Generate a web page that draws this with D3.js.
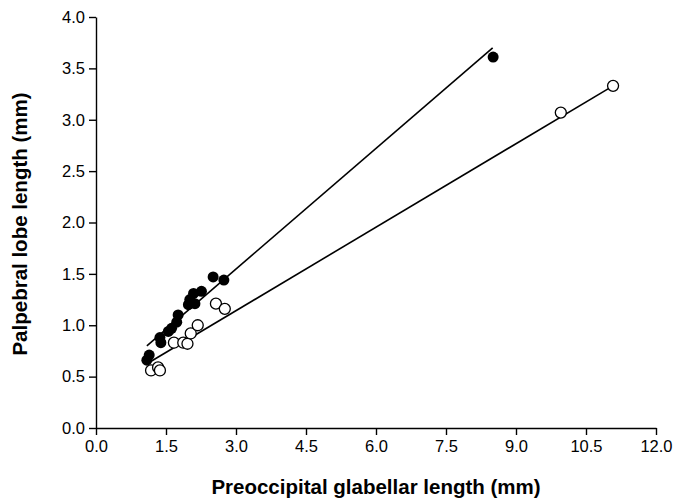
<!DOCTYPE html>
<html>
<head>
<meta charset="utf-8">
<script src="https://cdn.jsdelivr.net/npm/d3@7"></script>
<style>
  body { margin: 0; background: #fff; }
  svg { display: block; }
  .axis text { font-family: "Liberation Sans", Arial, sans-serif; font-size: 16.5px; fill: #000; }
  .axis path, .axis line { stroke: #000; stroke-width: 1.4px; }
  .title { font-family: "Liberation Sans", Arial, sans-serif; font-size: 20.5px; font-weight: bold; }
</style>
</head>
<body>
<div id="chart"></div>
<script>
// filled circles
var filledX = [1.09, 1.14, 1.37, 1.39, 1.55, 1.62, 1.73, 1.76, 1.98, 2.01, 2.09, 2.12, 2.26, 2.51, 2.74, 8.51];
var filledY = [0.66, 0.71, 0.88, 0.83, 0.94, 0.97, 1.03, 1.10, 1.20, 1.25, 1.31, 1.21, 1.33, 1.47, 1.44, 3.61];
// open circles
var openX = [1.18, 1.33, 1.37, 1.67, 1.87, 1.96, 2.03, 2.18, 2.57, 2.76, 9.96, 11.08];
var openY = [0.56, 0.59, 0.56, 0.83, 0.83, 0.82, 0.92, 1.00, 1.21, 1.16, 3.07, 3.33];
// fitted lines (end points)
var fitFilled = [[1.09, 0.80], [8.50, 3.70]];
var fitOpen = [[1.11, 0.63], [11.08, 3.33]];

var xTicks = [0, 1.5, 3, 4.5, 6, 7.5, 9, 10.5, 12];
var yTicks = [0, 0.5, 1, 1.5, 2, 2.5, 3, 3.5, 4];

var W = 676, H = 499;
var svg = d3.select("#chart").append("svg").attr("width", W).attr("height", H);

var x = d3.scaleLinear().domain([0, 12]).range([96, 656]);
var y = d3.scaleLinear().domain([0, 4]).range([428, 17]);

svg.append("g").attr("class", "axis")
  .attr("transform", "translate(0," + y(0) + ")")
  .call(d3.axisBottom(x).tickValues(xTicks).tickSize(7).tickPadding(5).tickSizeOuter(0)
    .tickFormat(d3.format(".1f")));

svg.append("g").attr("class", "axis")
  .attr("transform", "translate(" + x(0) + ",0)")
  .call(d3.axisLeft(y).tickValues(yTicks).tickSize(7).tickPadding(4).tickSizeOuter(0)
    .tickFormat(d3.format(".1f")));

var line = d3.line().x(function (d) { return x(d[0]); }).y(function (d) { return y(d[1]); });
[fitFilled, fitOpen].forEach(function (f) {
  svg.append("path").attr("d", line(f)).attr("fill", "none")
    .attr("stroke", "#000").attr("stroke-width", 1.6);
});

svg.selectAll("circle.open").data(openX).enter().append("circle")
  .attr("class", "open")
  .attr("cx", function (d) { return x(d); })
  .attr("cy", function (d, i) { return y(openY[i]); })
  .attr("r", 5.5)
  .attr("fill", "#fff").attr("stroke", "#000").attr("stroke-width", 1.3);

svg.selectAll("circle.filled").data(filledX).enter().append("circle")
  .attr("class", "filled")
  .attr("cx", function (d) { return x(d); })
  .attr("cy", function (d, i) { return y(filledY[i]); })
  .attr("r", 5.5)
  .attr("fill", "#000");

svg.append("text").attr("class", "title")
  .attr("x", 376).attr("y", 494).attr("text-anchor", "middle")
  .text("Preoccipital glabellar length (mm)");

svg.append("text").attr("class", "title")
  .attr("transform", "translate(27,224) rotate(-90)").attr("text-anchor", "middle")
  .text("Palpebral lobe length (mm)");
</script>
</body>
</html>
